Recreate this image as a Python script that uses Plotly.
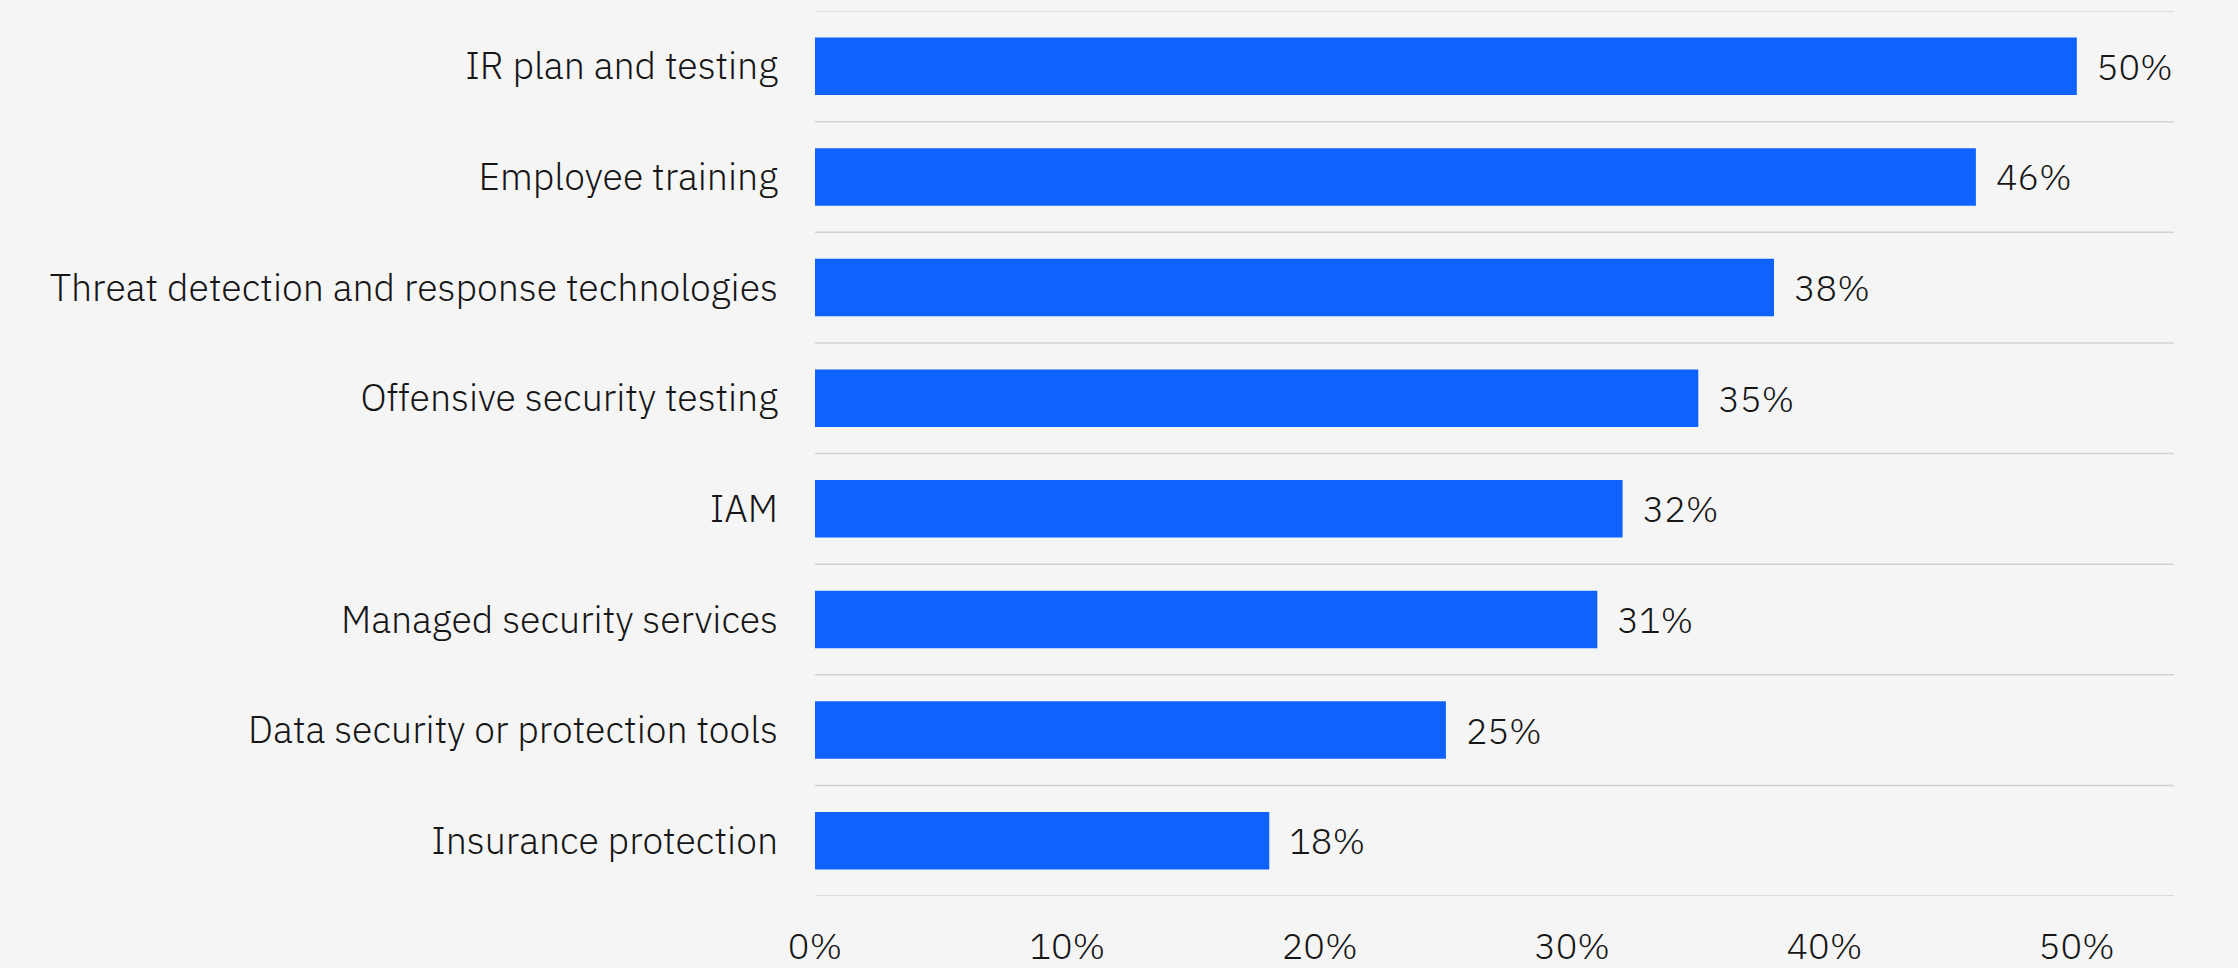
import plotly.graph_objects as go

# Share of respondents per investment area (percent)
categories = [
    "IR plan and testing",
    "Employee training",
    "Threat detection and response technologies",
    "Offensive security testing",
    "IAM",
    "Managed security services",
    "Data security or protection tools",
    "Insurance protection",
]
values = [50, 46, 38, 35, 32, 31, 25, 18]
tick_values = [0, 10, 20, 30, 40, 50]
tick_labels = ["0%", "10%", "20%", "30%", "40%", "50%"]

FONT = "IBM Plex Sans, Roboto, sans-serif"
WEIGHT = 300
SIZE = 36
LABEL_SIZE = 37.5
TEXT = "#161616"
BLUE = "#0f62fe"
BG = "#f5f5f5"
GRID = "#d2d2d2"

fig = go.Figure(
    go.Bar(
        y=categories,
        x=values,
        orientation="h",
        marker=dict(color=BLUE, line=dict(width=0)),
        width=0.52,
        text=[f"\u00a0\u00a0{v}%" for v in values],
        textposition="outside",
        textfont=dict(family=FONT, size=SIZE, color=TEXT, weight=WEIGHT),
        cliponaxis=False,
        hoverinfo="skip",
    )
)

# separator lines on the category boundaries, spanning the plot width
n = len(categories)
for k in range(n + 1):
    fig.add_shape(
        type="line",
        xref="x domain",
        yref="y",
        x0=0,
        x1=1,
        y0=k - 0.5,
        y1=k - 0.5,
        line=dict(color=GRID, width=1.5),
        layer="below",
    )

fig.update_layout(
    template="none",
    width=2238,
    height=968,
    paper_bgcolor=BG,
    plot_bgcolor=BG,
    margin=dict(l=815, r=64, t=11, b=72, autoexpand=False),
    font=dict(family=FONT, size=SIZE, color=TEXT, weight=WEIGHT),
    showlegend=False,
)

fig.update_xaxes(
    range=[0, 53.85],
    tickvals=tick_values,
    ticktext=tick_labels,
    showgrid=False,
    zeroline=False,
    showline=False,
    ticks="",
    automargin=False,
    ticklabelstandoff=26,
    tickfont=dict(family=FONT, size=SIZE, color=TEXT, weight=WEIGHT),
)

fig.update_yaxes(
    categoryorder="array",
    categoryarray=categories[::-1],
    range=[-0.5, n - 0.5],
    showgrid=False,
    zeroline=False,
    showline=False,
    ticks="",
    automargin=False,
    ticklabelstandoff=36,
    tickfont=dict(family=FONT, size=LABEL_SIZE, color=TEXT, weight=WEIGHT),
)

fig.write_html("out.html")
